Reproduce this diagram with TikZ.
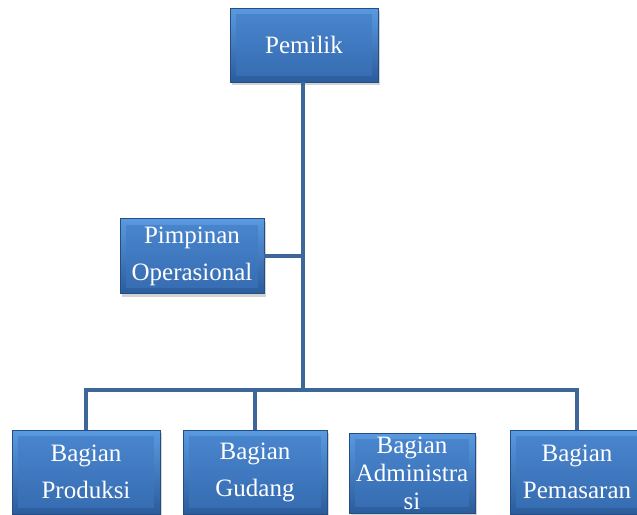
\documentclass[tikz,border=0pt]{standalone}
\usepackage{fontspec}
\setmainfont{Liberation Serif}
\usetikzlibrary{shadows}
\definecolor{boxtop}{HTML}{5A9AE0}
\definecolor{boxbot}{HTML}{2B5C9C}
\definecolor{boxmid}{HTML}{3E78C2}
\definecolor{boxedge}{HTML}{244E86}
\definecolor{linec}{HTML}{3D6699}
\tikzset{
  orgbox/.style={draw=boxedge, line width=0.8pt, top color=boxtop, bottom color=boxbot,
    drop shadow={shadow xshift=2pt, shadow yshift=-3pt, opacity=0.35},
    text=white, align=center, inner sep=0pt,
    font=\fontsize{25}{37}\selectfont,
    path picture={\fill[boxmid, opacity=0.55]
      ([shift={(6pt,-6pt)}]path picture bounding box.north west) rectangle
      ([shift={(-6pt,6pt)}]path picture bounding box.south east);}},
  conn/.style={draw=linec, line width=4.5pt}
}
\begin{document}
\begin{tikzpicture}[x=1pt,y=-1pt]
\useasboundingbox (0,0) rectangle (637,514);
\node[orgbox, minimum width=148pt, minimum height=74pt] (pemilik) at (304,45) {Pemilik};
\node[orgbox, minimum width=144pt, minimum height=75pt] (pimpinan) at (192,256) {Pimpinan\\Operasional};
\node[orgbox, minimum width=148pt, minimum height=84pt] (produksi) at (86,472) {Bagian\\Produksi};
\node[orgbox, minimum width=144pt, minimum height=84pt] (gudang) at (255,472) {Bagian\\Gudang};
\node[orgbox, minimum width=126pt, minimum height=80pt, font=\fontsize{25}{28}\selectfont] (admin) at (412,473) {Bagian\\Administra\\si};
\node[orgbox, minimum width=134pt, minimum height=84pt] (pemasaran) at (577,472) {Bagian\\Pemasaran};
\coordinate (j) at (303,390);
\draw[conn] (pemilik.south -| j) -- (j);
\draw[conn] (pimpinan.east) -- (pimpinan.east -| j);
\draw[conn] (produksi.north) |- (j) -| (pemasaran.north);
\draw[conn] (gudang.north) -- (gudang.north |- j);
\end{tikzpicture}
\end{document}
